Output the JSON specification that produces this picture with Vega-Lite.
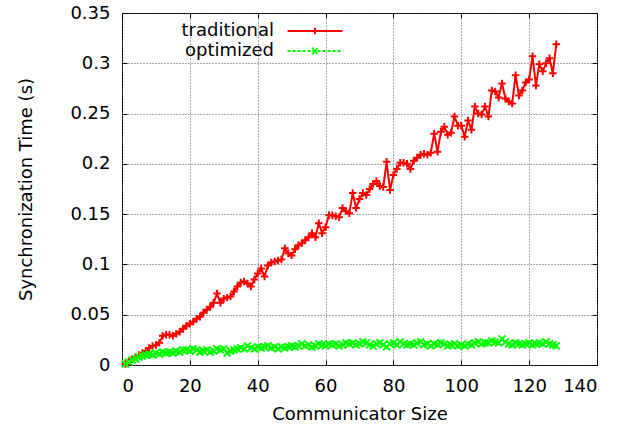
{
  "$schema": "https://vega.github.io/schema/vega-lite/v6.json",
  "width": 475,
  "height": 352,
  "autosize": {"type": "none"},
  "padding": {"left": 122, "top": 13, "right": 45, "bottom": 67},
  "background": "white",
  "config": {
    "font": "DejaVu Sans",
    "view": {"stroke": "black", "strokeWidth": 1},
    "axis": {
      "domain": false,
      "grid": true,
      "gridColor": "#555",
      "gridDash": [1, 2],
      "gridWidth": 1,
      "ticks": true,
      "tickColor": "black",
      "tickSize": -5,
      "labelFont": "DejaVu Sans",
      "titleFont": "DejaVu Sans",
      "labelFontSize": 18,
      "titleFontSize": 18,
      "labelColor": "black",
      "titleColor": "black",
      "titleFontWeight": "normal",
      "labelPadding": 17
    },
    "legend": {"labelFont": "DejaVu Sans"}
  },
  "data": {
    "values": [
      {"n":1,"traditional":0.001,"optimized":0.001},
      {"n":2,"traditional":0.003,"optimized":0.003},
      {"n":3,"traditional":0.006,"optimized":0.005},
      {"n":4,"traditional":0.008,"optimized":0.006},
      {"n":5,"traditional":0.010,"optimized":0.008},
      {"n":6,"traditional":0.012,"optimized":0.009},
      {"n":7,"traditional":0.014,"optimized":0.010},
      {"n":8,"traditional":0.017,"optimized":0.011},
      {"n":9,"traditional":0.019,"optimized":0.010},
      {"n":10,"traditional":0.020,"optimized":0.012},
      {"n":11,"traditional":0.022,"optimized":0.011},
      {"n":12,"traditional":0.029,"optimized":0.013},
      {"n":13,"traditional":0.030,"optimized":0.012},
      {"n":14,"traditional":0.030,"optimized":0.013},
      {"n":15,"traditional":0.029,"optimized":0.012},
      {"n":16,"traditional":0.031,"optimized":0.014},
      {"n":17,"traditional":0.033,"optimized":0.013},
      {"n":18,"traditional":0.036,"optimized":0.015},
      {"n":19,"traditional":0.039,"optimized":0.015},
      {"n":20,"traditional":0.041,"optimized":0.014},
      {"n":21,"traditional":0.043,"optimized":0.016},
      {"n":22,"traditional":0.046,"optimized":0.015},
      {"n":23,"traditional":0.048,"optimized":0.013},
      {"n":24,"traditional":0.052,"optimized":0.014},
      {"n":25,"traditional":0.055,"optimized":0.015},
      {"n":26,"traditional":0.058,"optimized":0.013},
      {"n":27,"traditional":0.062,"optimized":0.014},
      {"n":28,"traditional":0.071,"optimized":0.016},
      {"n":29,"traditional":0.062,"optimized":0.015},
      {"n":30,"traditional":0.066,"optimized":0.016},
      {"n":31,"traditional":0.067,"optimized":0.012},
      {"n":32,"traditional":0.068,"optimized":0.014},
      {"n":33,"traditional":0.073,"optimized":0.015},
      {"n":34,"traditional":0.078,"optimized":0.016},
      {"n":35,"traditional":0.082,"optimized":0.017},
      {"n":36,"traditional":0.083,"optimized":0.016},
      {"n":37,"traditional":0.081,"optimized":0.019},
      {"n":38,"traditional":0.078,"optimized":0.017},
      {"n":39,"traditional":0.085,"optimized":0.016},
      {"n":40,"traditional":0.091,"optimized":0.018},
      {"n":41,"traditional":0.096,"optimized":0.017},
      {"n":42,"traditional":0.088,"optimized":0.018},
      {"n":43,"traditional":0.099,"optimized":0.019},
      {"n":44,"traditional":0.102,"optimized":0.017},
      {"n":45,"traditional":0.103,"optimized":0.018},
      {"n":46,"traditional":0.104,"optimized":0.016},
      {"n":47,"traditional":0.105,"optimized":0.018},
      {"n":48,"traditional":0.116,"optimized":0.017},
      {"n":49,"traditional":0.111,"optimized":0.018},
      {"n":50,"traditional":0.109,"optimized":0.019},
      {"n":51,"traditional":0.115,"optimized":0.018},
      {"n":52,"traditional":0.119,"optimized":0.019},
      {"n":53,"traditional":0.121,"optimized":0.021},
      {"n":54,"traditional":0.124,"optimized":0.019},
      {"n":55,"traditional":0.127,"optimized":0.020},
      {"n":56,"traditional":0.131,"optimized":0.018},
      {"n":57,"traditional":0.127,"optimized":0.019},
      {"n":58,"traditional":0.141,"optimized":0.021},
      {"n":59,"traditional":0.131,"optimized":0.020},
      {"n":60,"traditional":0.137,"optimized":0.019},
      {"n":61,"traditional":0.149,"optimized":0.021},
      {"n":62,"traditional":0.149,"optimized":0.020},
      {"n":63,"traditional":0.148,"optimized":0.021},
      {"n":64,"traditional":0.147,"optimized":0.019},
      {"n":65,"traditional":0.156,"optimized":0.020},
      {"n":66,"traditional":0.153,"optimized":0.022},
      {"n":67,"traditional":0.151,"optimized":0.021},
      {"n":68,"traditional":0.171,"optimized":0.022},
      {"n":69,"traditional":0.156,"optimized":0.020},
      {"n":70,"traditional":0.165,"optimized":0.021},
      {"n":71,"traditional":0.171,"optimized":0.023},
      {"n":72,"traditional":0.169,"optimized":0.022},
      {"n":73,"traditional":0.175,"optimized":0.020},
      {"n":74,"traditional":0.180,"optimized":0.019},
      {"n":75,"traditional":0.183,"optimized":0.021},
      {"n":76,"traditional":0.178,"optimized":0.022},
      {"n":77,"traditional":0.177,"optimized":0.020},
      {"n":78,"traditional":0.202,"optimized":0.018},
      {"n":79,"traditional":0.174,"optimized":0.021},
      {"n":80,"traditional":0.189,"optimized":0.022},
      {"n":81,"traditional":0.195,"optimized":0.020},
      {"n":82,"traditional":0.201,"optimized":0.023},
      {"n":83,"traditional":0.201,"optimized":0.021},
      {"n":84,"traditional":0.200,"optimized":0.020},
      {"n":85,"traditional":0.195,"optimized":0.021},
      {"n":86,"traditional":0.203,"optimized":0.020},
      {"n":87,"traditional":0.206,"optimized":0.022},
      {"n":88,"traditional":0.209,"optimized":0.023},
      {"n":89,"traditional":0.210,"optimized":0.020},
      {"n":90,"traditional":0.209,"optimized":0.021},
      {"n":91,"traditional":0.211,"optimized":0.019},
      {"n":92,"traditional":0.230,"optimized":0.021},
      {"n":93,"traditional":0.212,"optimized":0.020},
      {"n":94,"traditional":0.232,"optimized":0.022},
      {"n":95,"traditional":0.237,"optimized":0.021},
      {"n":96,"traditional":0.229,"optimized":0.019},
      {"n":97,"traditional":0.231,"optimized":0.020},
      {"n":98,"traditional":0.247,"optimized":0.021},
      {"n":99,"traditional":0.238,"optimized":0.019},
      {"n":100,"traditional":0.238,"optimized":0.020},
      {"n":101,"traditional":0.227,"optimized":0.019},
      {"n":102,"traditional":0.243,"optimized":0.021},
      {"n":103,"traditional":0.234,"optimized":0.020},
      {"n":104,"traditional":0.257,"optimized":0.022},
      {"n":105,"traditional":0.250,"optimized":0.023},
      {"n":106,"traditional":0.249,"optimized":0.021},
      {"n":107,"traditional":0.257,"optimized":0.022},
      {"n":108,"traditional":0.247,"optimized":0.022},
      {"n":109,"traditional":0.273,"optimized":0.024},
      {"n":110,"traditional":0.272,"optimized":0.023},
      {"n":111,"traditional":0.266,"optimized":0.022},
      {"n":112,"traditional":0.280,"optimized":0.026},
      {"n":113,"traditional":0.265,"optimized":0.023},
      {"n":114,"traditional":0.262,"optimized":0.021},
      {"n":115,"traditional":0.260,"optimized":0.020},
      {"n":116,"traditional":0.288,"optimized":0.022},
      {"n":117,"traditional":0.268,"optimized":0.021},
      {"n":118,"traditional":0.273,"optimized":0.020},
      {"n":119,"traditional":0.281,"optimized":0.021},
      {"n":120,"traditional":0.284,"optimized":0.022},
      {"n":121,"traditional":0.307,"optimized":0.020},
      {"n":122,"traditional":0.278,"optimized":0.021},
      {"n":123,"traditional":0.299,"optimized":0.022},
      {"n":124,"traditional":0.292,"optimized":0.021},
      {"n":125,"traditional":0.300,"optimized":0.023},
      {"n":126,"traditional":0.305,"optimized":0.021},
      {"n":127,"traditional":0.290,"optimized":0.020},
      {"n":128,"traditional":0.319,"optimized":0.019}
    ]
  },
  "transform": [{"fold": ["traditional", "optimized"], "as": ["series", "time"]}],
  "layer": [
    {
      "mark": {"type": "line", "strokeWidth": 2},
      "encoding": {
        "x": {"field": "n", "type": "quantitative", "scale": {"domain": [0, 140], "nice": false},
              "axis": {"values": [0,20,40,60,80,100,120,140], "title": "Communicator Size", "titlePadding": 10}},
        "y": {"field": "time", "type": "quantitative", "scale": {"domain": [0, 0.35], "nice": false},
              "axis": {"values": [0,0.05,0.1,0.15,0.2,0.25,0.3,0.35], "format": "~g", "title": "Synchronization Time (s)", "titlePadding": 34}},
        "color": {"field": "series", "type": "nominal",
                  "scale": {"domain": ["traditional", "optimized"], "range": ["#ff0000", "#00ff00"]},
                  "legend": {
                    "orient": "none", "legendX": 184, "legendY": 9,
                    "title": null, "padding": 0, "rowPadding": 2,
                    "symbolType": "M-5,0H5", "symbolSize": 121, "symbolStrokeWidth": 2,
                    "labelAlign": "right", "labelOffset": -50, "labelFontSize": 18, "labelColor": "black", "labelLimit": 300,
                    "encode": {"symbols": {"update": {
                      "shape": {"signal": "datum.value === 'traditional' ? 'M-5,0H5M0,-0.6V0.6M-0.6,0H0.6' : 'M-5,0H5M-0.5,-0.6L0.5,0.6M-0.5,0.6L0.5,-0.6'"},
                      "stroke": {"scale": "color", "field": "value"},
                      "fill": {"value": "transparent"},
                      "strokeWidth": {"value": 2},
                      "opacity": {"value": 1},
                      "strokeDash": {"signal": "datum.value === 'optimized' ? [3,2] : [1,0]"}
                    }}}
                  }},
        "strokeDash": {"field": "series", "type": "nominal",
                       "scale": {"domain": ["traditional", "optimized"], "range": [[1,0],[3,2]]}, "legend": null},
        "order": {"field": "n", "type": "quantitative"}
      }
    },
    {
      "transform": [{"filter": "datum.series === 'traditional'"}],
      "mark": {"type": "point", "filled": false, "strokeWidth": 2, "opacity": 1, "size": 56, "color": "#ff0000", "shape": "M-1,0H1M0,-1V1"},
      "encoding": {
        "x": {"field": "n", "type": "quantitative", "axis": null},
        "y": {"field": "time", "type": "quantitative", "axis": null}
      }
    },
    {
      "transform": [{"filter": "datum.series === 'optimized'"}],
      "mark": {"type": "point", "filled": false, "strokeWidth": 2, "opacity": 1, "size": 49, "color": "#00ff00", "shape": "M-1,-1L1,1M-1,1L1,-1"},
      "encoding": {
        "x": {"field": "n", "type": "quantitative", "axis": null},
        "y": {"field": "time", "type": "quantitative", "axis": null}
      }
    },
    {
      "mark": {"type": "point", "opacity": 0},
      "encoding": {
        "x": {"field": "n", "type": "quantitative",
              "axis": {"orient": "top", "values": [0,20,40,60,80,100,120,140], "labels": false, "grid": false, "title": null}},
        "y": {"field": "time", "type": "quantitative",
              "axis": {"orient": "right", "values": [0,0.05,0.1,0.15,0.2,0.25,0.3,0.35], "labels": false, "grid": false, "title": null}}
      }
    }
  ],
  "resolve": {"axis": {"x": "independent", "y": "independent"}}
}
